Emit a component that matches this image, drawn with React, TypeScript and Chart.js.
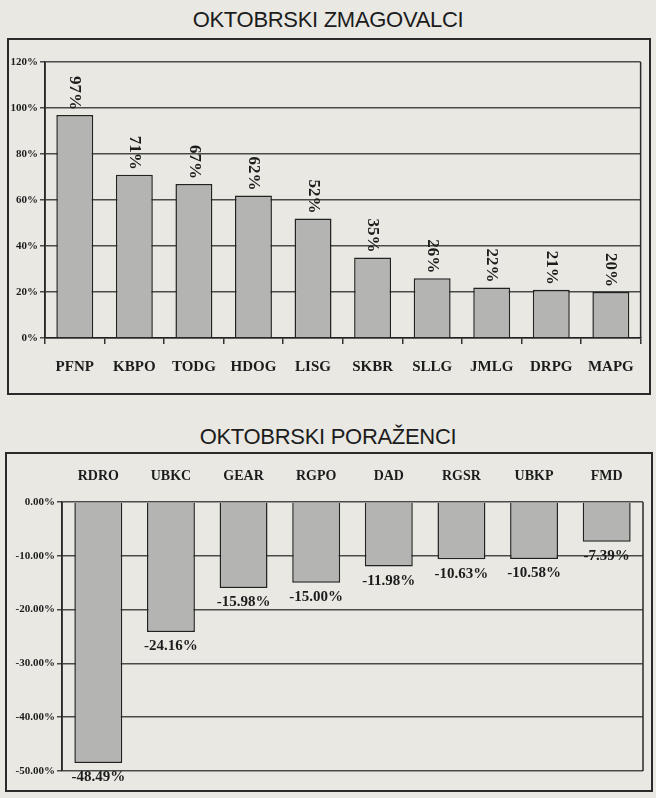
import React, { useEffect, useRef } from "react";
import { Chart, registerables } from "chart.js";
Chart.register(...registerables);

const winCategories = ["PFNP", "KBPO", "TODG", "HDOG", "LISG", "SKBR", "SLLG", "JMLG", "DRPG", "MAPG"];
const winValues = [97, 71, 67, 62, 52, 35, 26, 22, 21, 20];
const winTicks = [0, 20, 40, 60, 80, 100, 120];

const loseCategories = ["RDRO", "UBKC", "GEAR", "RGPO", "DAD", "RGSR", "UBKP", "FMD"];
const loseValues = [-48.49, -24.16, -15.98, -15.0, -11.98, -10.63, -10.58, -7.39];
const loseTicks = [0, -10, -20, -30, -40, -50];

const PAPER = "#e9e8e3";
const INK = "#1c1c1c";
const BAR = "#b4b4b2";
const GRID = "#4a4a4a";
const SERIF = "'Liberation Serif', 'DejaVu Serif', serif";
const SANS = "'Liberation Sans', Arial, sans-serif";

const areaFrame = {
  id: "areaFrame",
  afterDraw(chart: any) {
    const { ctx, chartArea: a } = chart;
    ctx.save();
    ctx.strokeStyle = "#2a2a2a";
    ctx.lineWidth = 1.5;
    ctx.beginPath();
    ctx.moveTo(a.left, a.top);
    ctx.lineTo(a.left, a.bottom);
    ctx.moveTo(a.right, a.top);
    ctx.lineTo(a.right, a.bottom);
    ctx.stroke();
    ctx.restore();
  },
};

const winLabelsPlugin = {
  id: "winLabels",
  afterDatasetsDraw(chart: any) {
    const { ctx } = chart;
    const meta = chart.getDatasetMeta(0);
    ctx.save();
    ctx.fillStyle = INK;
    ctx.font = `bold 17px ${SERIF}`;
    meta.data.forEach((bar: any, i: number) => {
      ctx.save();
      ctx.translate(bar.x, bar.y - 5);
      ctx.rotate(Math.PI / 2);
      ctx.textAlign = "right";
      ctx.textBaseline = "middle";
      ctx.fillText(`${winValues[i]}%`, 0, 0);
      ctx.restore();
    });
    ctx.restore();
  },
};

const loseLabelsPlugin = {
  id: "loseLabels",
  afterDatasetsDraw(chart: any) {
    const { ctx } = chart;
    const meta = chart.getDatasetMeta(0);
    ctx.save();
    ctx.fillStyle = INK;
    ctx.font = `bold 15px ${SERIF}`;
    ctx.textAlign = "center";
    ctx.textBaseline = "top";
    meta.data.forEach((bar: any, i: number) => {
      ctx.fillText(`${loseValues[i].toFixed(2)}%`, bar.x, bar.y + 7);
    });
    ctx.restore();
  },
};

function WinChart() {
  const ref = useRef<HTMLCanvasElement>(null);
  useEffect(() => {
    const chart = new Chart(ref.current!, {
      type: "bar",
      data: {
        labels: winCategories,
        datasets: [
          {
            data: winValues,
            backgroundColor: BAR,
            borderColor: "#222",
            borderWidth: 1.5,
            categoryPercentage: 1,
            barPercentage: 0.62,
          },
        ],
      },
      options: {
        animation: false,
        responsive: false,
        layout: { padding: { top: 24, right: 5, left: 0, bottom: 0 } },
        plugins: { legend: { display: false }, tooltip: { enabled: false } },
        scales: {
          x: {
            grid: { drawOnChartArea: false, drawTicks: true, tickLength: 6, offset: true, color: "#333", lineWidth: 1.5 },
            border: { display: true, color: "#222", width: 1.5 },
            ticks: { color: INK, font: { family: SERIF, size: 15, weight: "bold" }, padding: 14 },
            afterFit: (s: any) => { s.height = 52; },
          },
          y: {
            min: 0,
            max: 120,
            afterBuildTicks: (s: any) => { s.ticks = winTicks.map((v) => ({ value: v })); },
            grid: { color: GRID, lineWidth: 1.5, tickLength: 5 },
            border: { display: true, color: "#222", width: 1.5 },
            ticks: { color: INK, font: { family: SERIF, size: 11, weight: "bold" }, padding: 2, callback: (v: any) => `${v}%` },
            afterFit: (s: any) => { s.width = 37; },
          },
        },
      },
      plugins: [areaFrame, winLabelsPlugin],
    });
    return () => chart.destroy();
  }, []);
  return <canvas ref={ref} width={640} height={352} style={{ position: "absolute", left: 8, top: 38, width: 640, height: 352 }} />;
}

function LoseChart() {
  const ref = useRef<HTMLCanvasElement>(null);
  useEffect(() => {
    const chart = new Chart(ref.current!, {
      type: "bar",
      data: {
        labels: loseCategories,
        datasets: [
          {
            data: loseValues,
            backgroundColor: BAR,
            borderColor: "#222",
            borderWidth: 1.5,
            categoryPercentage: 1,
            barPercentage: 0.66,
          },
        ],
      },
      options: {
        animation: false,
        responsive: false,
        layout: { padding: { top: 0, right: 5, left: 0, bottom: 23 } },
        plugins: { legend: { display: false }, tooltip: { enabled: false } },
        scales: {
          x: {
            position: "top",
            grid: { display: false },
            border: { display: false },
            ticks: { color: INK, font: { family: SERIF, size: 14, weight: "bold" }, padding: 9 },
            afterFit: (s: any) => { s.height = 44; },
          },
          y: {
            min: -50,
            max: 0,
            afterBuildTicks: (s: any) => { s.ticks = loseTicks.map((v) => ({ value: v })); },
            grid: { color: GRID, lineWidth: 1.5, tickLength: 5 },
            border: { display: true, color: "#222", width: 1.5 },
            ticks: { color: INK, font: { family: SERIF, size: 11, weight: "bold" }, padding: 2, callback: (v: any) => `${Number(v).toFixed(2)}%` },
            afterFit: (s: any) => { s.width = 54; },
          },
        },
      },
      plugins: [areaFrame, loseLabelsPlugin],
    });
    return () => chart.destroy();
  }, []);
  return <canvas ref={ref} width={640} height={336} style={{ position: "absolute", left: 8, top: 458, width: 640, height: 336 }} />;
}

export default function App() {
  const title: React.CSSProperties = {
    position: "absolute",
    left: 0,
    width: 656,
    textAlign: "center",
    fontFamily: SANS,
    fontSize: 22,
    lineHeight: "22px",
    color: INK,
    letterSpacing: -0.3,
  };
  return (
    <div style={{ position: "fixed", left: 0, top: 0, width: 656, height: 798, background: PAPER, overflow: "hidden" }}>
      <div style={{ ...title, top: 9 }}>OKTOBRSKI ZMAGOVALCI</div>
      <div style={{ position: "absolute", left: 7, top: 38, width: 644, height: 357, border: "2px solid #2a2a2a", boxSizing: "border-box" }} />
      <WinChart />
      <div style={{ ...title, top: 426 }}>OKTOBRSKI PORAŽENCI</div>
      <div style={{ position: "absolute", left: 5, top: 452, width: 648, height: 340, border: "2px solid #2a2a2a", boxSizing: "border-box" }} />
      <LoseChart />
    </div>
  );
}
